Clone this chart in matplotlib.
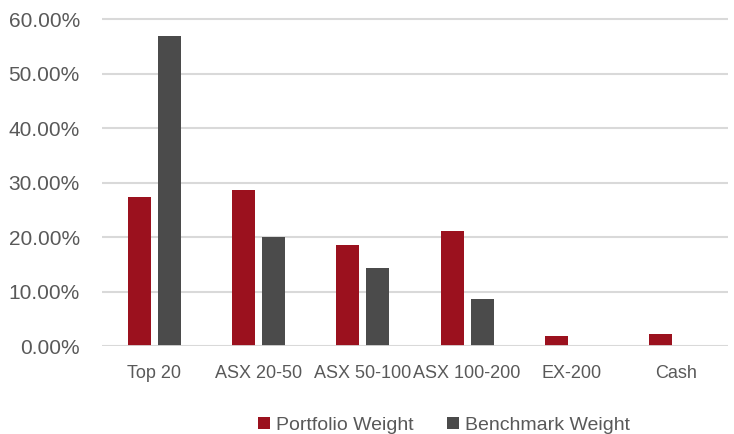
import matplotlib
matplotlib.use("Agg")
import matplotlib.pyplot as plt
import numpy as np
from matplotlib.ticker import FuncFormatter

categories = ["Top 20", "ASX 20-50", "ASX 50-100", "ASX 100-200", "EX-200", "Cash"]
portfolio = [27.3, 28.6, 18.5, 21.1, 1.8, 2.2]
benchmark = [56.9, 20.0, 14.3, 8.7, 0.0, 0.0]
yticks = [0, 10, 20, 30, 40, 50, 60]

plt.rcParams['font.family'] = ['Liberation Sans', 'DejaVu Sans']
text_color = "#595959"

fig = plt.figure(figsize=(7.34, 4.34), dpi=100)
ax = fig.add_axes([102/734, 1-346/434, 626/734, (346-16.3)/434])

x = np.arange(len(categories))
w = 0.22
ax.bar(x - 0.145, portfolio, w, color="#9B111E", label="Portfolio Weight", zorder=3)
ax.bar(x + 0.145, benchmark, w, color="#4B4B4B", label="Benchmark Weight", zorder=3)

ax.set_xlim(-0.5, len(categories) - 0.5)
ax.set_ylim(0, 60.5)
ax.set_yticks(yticks)
ax.yaxis.set_major_formatter(FuncFormatter(lambda v, p: f"{v:.2f}%"))
ax.set_xticks(x)
ax.set_xticklabels(categories)
ax.grid(axis="y", color="#d9d9d9", linewidth=1.5, zorder=0)
ax.axhline(0, color="#d9d9d9", linewidth=2, zorder=4)
for s in ax.spines.values():
    s.set_visible(False)
ax.tick_params(axis="both", length=0, colors=text_color)
ax.tick_params(axis="y", labelsize=15, pad=16)
ax.tick_params(axis="x", labelsize=13, pad=14)

leg = fig.legend(loc="lower center", bbox_to_anchor=(0.605, -0.04), ncol=2, frameon=False,
                 fontsize=14, handlelength=0.62, handleheight=0.62, handletextpad=0.3,
                 columnspacing=1.7, labelcolor=text_color)

fig.savefig("out.png", dpi=100)
